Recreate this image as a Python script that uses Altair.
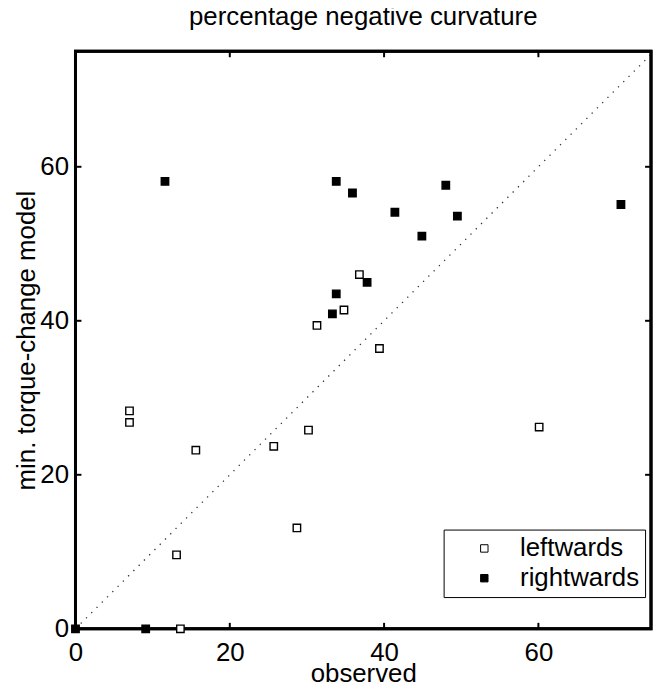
import altair as alt
import pandas as pd

# --- data ---
left_x = [36.8, 34.8, 31.3, 39.4, 7.0, 7.0, 15.6, 25.7, 30.2, 28.7, 13.1, 13.6, 60.1]
left_y = [46.0, 41.4, 39.4, 36.4, 28.3, 26.8, 23.2, 23.7, 25.8, 13.1, 9.6, 0.0, 26.2]
right_x = [11.6, 33.8, 35.9, 48.0, 41.4, 49.5, 44.9, 70.7, 37.8, 33.8, 33.3, 0.0, 9.1]
right_y = [58.1, 58.1, 56.6, 57.6, 54.1, 53.6, 51.0, 55.1, 45.0, 43.5, 40.9, 0.0, 0.0]
categories = ["leftwards", "rightwards"]
tick_vals = [0, 20, 40, 60]
diag = [0, 75]

FONT = "Liberation Sans"
W, H = 580, 582

pts = pd.DataFrame({
    "observed": left_x + right_x,
    "model": left_y + right_y,
    "direction": [categories[0]] * len(left_x) + [categories[1]] * len(right_x),
})
diag_df = pd.DataFrame({"observed": diag, "model": diag})
xt = pd.DataFrame({"observed": tick_vals})
yt = pd.DataFrame({"model": tick_vals})
frame_df = pd.DataFrame({"f": [0]})

xs = alt.Scale(domain=[0, 74.6], nice=False, zero=False)
ys = alt.Scale(domain=[0, 75], nice=False, zero=False)

x_axis = alt.Axis(values=tick_vals, tickSize=0, domain=False, grid=False,
                  labelFontSize=26, labelFont=FONT, labelPadding=11,
                  labelFlush=False, labelOverlap=False, labelColor="black",
                  title="observed", titleFontSize=26, titleFont=FONT,
                  titleFontWeight="normal", titleColor="black",
                  titleY=53, titleBaseline="alphabetic")
y_axis = alt.Axis(values=tick_vals, tickSize=0, domain=False, grid=False,
                  labelFontSize=26, labelFont=FONT, labelPadding=7,
                  labelOverlap=False, labelFlush=False, labelColor="black",
                  title="min. torque-change model", titleFontSize=26,
                  titleFont=FONT, titleFontWeight="normal", titleColor="black",
                  titleX=-41, titleY=W / 2 + 1, titleAngle=270,
                  titleBaseline="alphabetic")

diagonal = alt.Chart(diag_df).mark_line(
    color="#333333", strokeWidth=1.3, strokeDash=[1.3, 6.2], clip=True
).encode(
    x=alt.X("observed:Q", scale=xs, axis=x_axis),
    y=alt.Y("model:Q", scale=ys, axis=y_axis),
)

frame = alt.Chart(frame_df).mark_rect(
    fill="transparent", stroke="black", strokeWidth=3
).encode(
    x=alt.value(0), x2=alt.value(W), y=alt.value(0), y2=alt.value(H)
)

points = alt.Chart(pts).mark_square(
    size=56, stroke="black", strokeWidth=1.4, opacity=1
).encode(
    x=alt.X("observed:Q", scale=xs),
    y=alt.Y("model:Q", scale=ys),
    fill=alt.Fill(
        "direction:N",
        scale=alt.Scale(domain=categories, range=["white", "black"]),
        legend=alt.Legend(
            title=None, orient="none", legendX=371, legendY=482,
            fillColor="white", strokeColor="black", padding=6,
            symbolType="square", symbolSize=56, symbolStrokeColor="black",
            symbolStrokeWidth=1, symbolOffset=22, labelOffset=23,
            labelFontSize=26, labelFont=FONT, labelColor="black",
            rowPadding=4,
        ),
    ),
)

tick_bottom = alt.Chart(xt).mark_rule(color="black", strokeWidth=2).encode(
    x=alt.X("observed:Q", scale=xs), y=alt.value(H), y2=alt.value(H - 6))
tick_top = alt.Chart(xt).mark_rule(color="black", strokeWidth=2).encode(
    x=alt.X("observed:Q", scale=xs), y=alt.value(0), y2=alt.value(6))
tick_left = alt.Chart(yt).mark_rule(color="black", strokeWidth=2).encode(
    y=alt.Y("model:Q", scale=ys), x=alt.value(0), x2=alt.value(6))
tick_right = alt.Chart(yt).mark_rule(color="black", strokeWidth=2).encode(
    y=alt.Y("model:Q", scale=ys), x=alt.value(W), x2=alt.value(W - 6))

chart = alt.layer(
    diagonal, frame, tick_bottom, tick_top, tick_left, tick_right, points
).properties(
    width=W, height=H,
    title=alt.TitleParams(
        "percentage negative curvature", fontSize=26, font=FONT,
        fontWeight="normal", color="black", anchor="middle",
        baseline="alphabetic", offset=-1, frame="group",
    ),
    padding={"left": 68, "top": 41, "right": 3, "bottom": 53},
    autosize=alt.AutoSizeParams(type="none"),
    view=alt.ViewBackground(stroke="black", strokeWidth=3, fill="white"),
).configure(
    background="white",
)

chart.save("out.html", embed_options={"renderer": "svg", "actions": False})
